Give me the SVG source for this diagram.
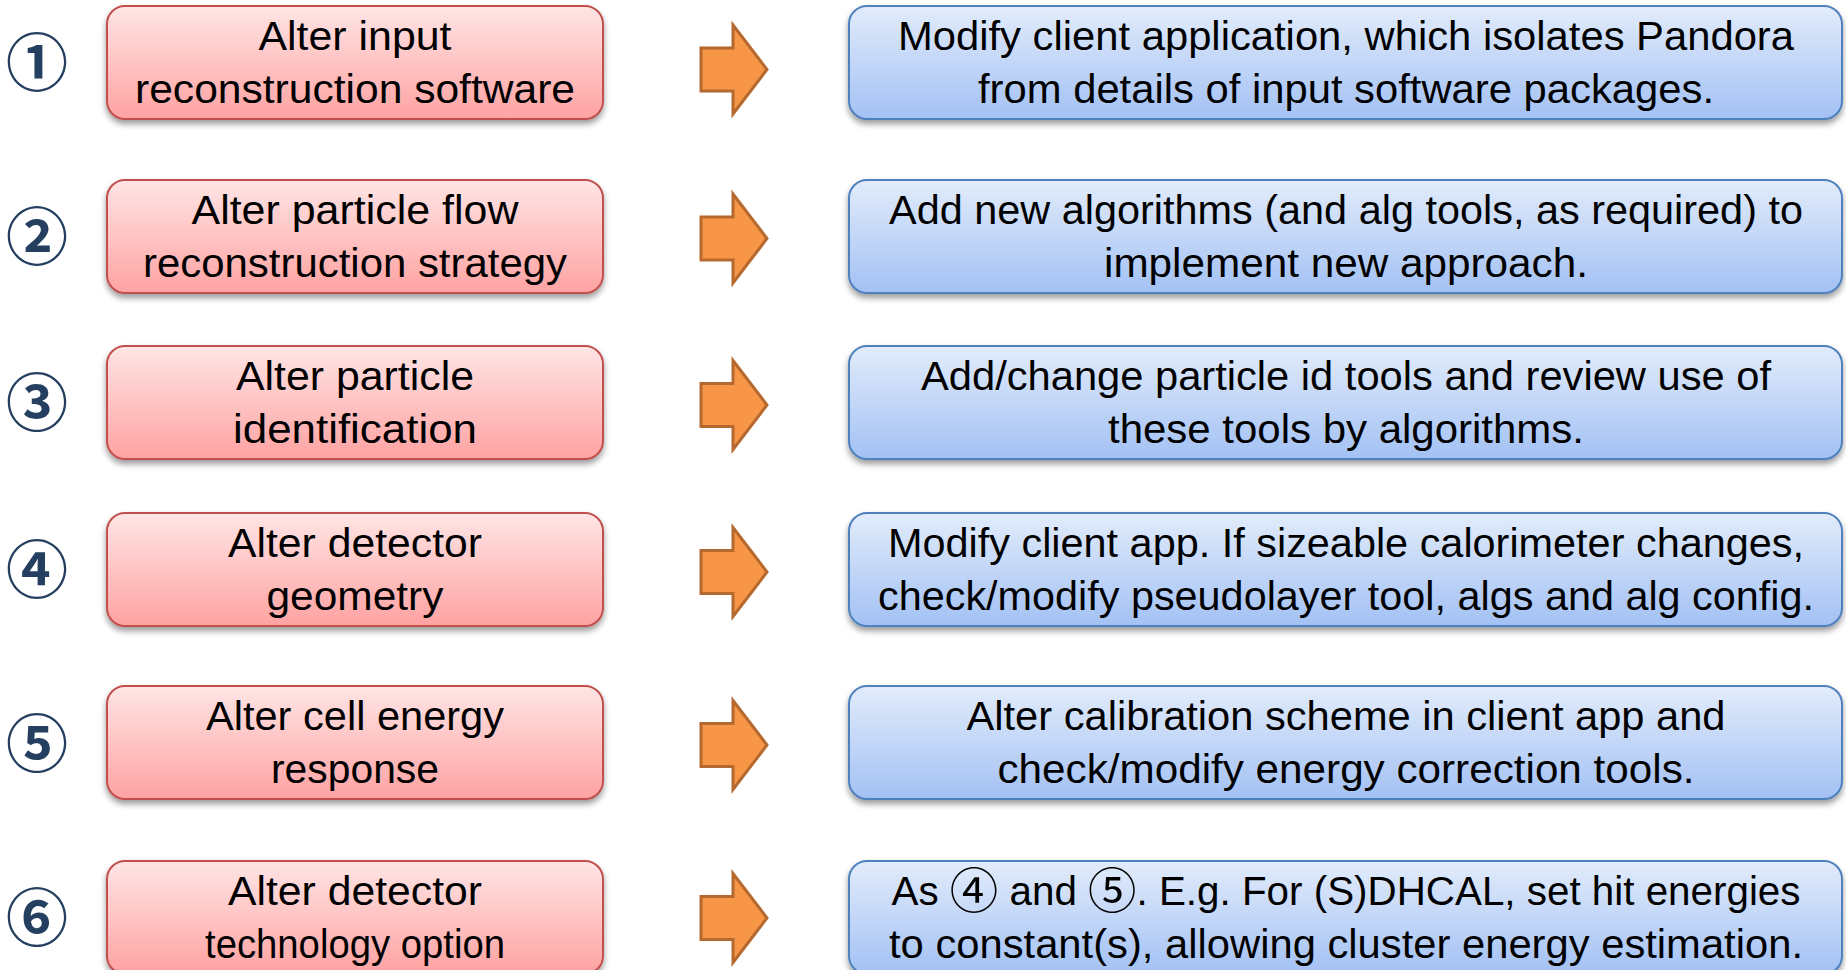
<svg xmlns="http://www.w3.org/2000/svg" width="1846" height="970" viewBox="0 0 1846 970">
<defs>
<linearGradient id="gRed" x1="0" y1="0" x2="0" y2="1">
<stop offset="0" stop-color="#FFE5E5"/>
<stop offset="1" stop-color="#FFA2A2"/>
</linearGradient>
<linearGradient id="gBlue" x1="0" y1="0" x2="0" y2="1">
<stop offset="0" stop-color="#E2ECFB"/>
<stop offset="1" stop-color="#A3C1F4"/>
</linearGradient>
<filter id="shadow" x="-5%" y="-10%" width="110%" height="130%">
<feGaussianBlur in="SourceAlpha" stdDeviation="3"/>
<feOffset dx="0" dy="4" result="b"/>
<feComponentTransfer><feFuncA type="linear" slope="0.4"/></feComponentTransfer>
<feMerge><feMergeNode/><feMergeNode in="SourceGraphic"/></feMerge>
</filter>
<path id="arrowShape" d="M0,-21.5 L32,-21.5 L32,-44.5 L66,0 L32,44.5 L32,21.5 L0,21.5 Z"/>
</defs>
<style>
.lbox{fill:url(#gRed);stroke:#C0504D;stroke-width:2;filter:url(#shadow)}
.rbox{fill:url(#gBlue);stroke:#4F81BD;stroke-width:2;filter:url(#shadow)}
.t{font-family:"Liberation Sans",Arial,sans-serif;font-size:40px;fill:#000;text-anchor:middle}
.num{font-family:"Noto Sans CJK JP","DejaVu Sans",sans-serif;font-weight:bold;font-size:62px;fill:#243F60;text-anchor:middle}
.c{font-family:"Noto Sans CJK JP",sans-serif;font-size:48px}
.arr{fill:#F79646;stroke:#B5692F;stroke-width:3;stroke-linejoin:miter}
</style>
<rect width="1846" height="970" fill="#FFFFFF"/>

<g id="connectors">
<use href="#arrowShape" class="arr" transform="translate(701,69.5)"/>
<use href="#arrowShape" class="arr" transform="translate(701,238.5)"/>
<use href="#arrowShape" class="arr" transform="translate(701,405)"/>
<use href="#arrowShape" class="arr" transform="translate(701,572)"/>
<use href="#arrowShape" class="arr" transform="translate(701,745)"/>
<use href="#arrowShape" class="arr" transform="translate(701,918)"/>
</g>

<g id="num1"><text class="num" x="37" y="86">①</text></g>
<g id="num2"><text class="num" x="37" y="260">②</text></g>
<g id="num3"><text class="num" x="37" y="426">③</text></g>
<g id="num4"><text class="num" x="37" y="593">④</text></g>
<g id="num5"><text class="num" x="37" y="767">⑤</text></g>
<g id="num6"><text class="num" x="37" y="941">⑥</text></g>

<g id="left1">
<rect class="lbox" x="107" y="6" width="496" height="113" rx="18"/>
<text class="t" x="355" y="50" textLength="193" lengthAdjust="spacingAndGlyphs">Alter input</text>
<text class="t" x="355" y="103" textLength="440" lengthAdjust="spacingAndGlyphs">reconstruction software</text>
</g>
<g id="left2">
<rect class="lbox" x="107" y="180" width="496" height="113" rx="18"/>
<text class="t" x="355" y="224" textLength="327" lengthAdjust="spacingAndGlyphs">Alter particle flow</text>
<text class="t" x="355" y="277" textLength="424" lengthAdjust="spacingAndGlyphs">reconstruction strategy</text>
</g>
<g id="left3">
<rect class="lbox" x="107" y="346" width="496" height="113" rx="18"/>
<text class="t" x="355" y="390" textLength="238" lengthAdjust="spacingAndGlyphs">Alter particle</text>
<text class="t" x="355" y="443" textLength="244" lengthAdjust="spacingAndGlyphs">identification</text>
</g>
<g id="left4">
<rect class="lbox" x="107" y="513" width="496" height="113" rx="18"/>
<text class="t" x="355" y="557" textLength="254" lengthAdjust="spacingAndGlyphs">Alter detector</text>
<text class="t" x="355" y="610" textLength="177" lengthAdjust="spacingAndGlyphs">geometry</text>
</g>
<g id="left5">
<rect class="lbox" x="107" y="686" width="496" height="113" rx="18"/>
<text class="t" x="355" y="730" textLength="298" lengthAdjust="spacingAndGlyphs">Alter cell energy</text>
<text class="t" x="355" y="783" textLength="168" lengthAdjust="spacingAndGlyphs">response</text>
</g>
<g id="left6">
<rect class="lbox" x="107" y="861" width="496" height="113" rx="18"/>
<text class="t" x="355" y="905" textLength="254" lengthAdjust="spacingAndGlyphs">Alter detector</text>
<text class="t" x="355" y="958" textLength="300" lengthAdjust="spacingAndGlyphs">technology option</text>
</g>

<g id="right1">
<rect class="rbox" x="849" y="6" width="993" height="113" rx="18"/>
<text class="t" x="1346" y="50" textLength="896" lengthAdjust="spacingAndGlyphs">Modify client application, which isolates Pandora</text>
<text class="t" x="1346" y="103" textLength="736" lengthAdjust="spacingAndGlyphs">from details of input software packages.</text>
</g>
<g id="right2">
<rect class="rbox" x="849" y="180" width="993" height="113" rx="18"/>
<text class="t" x="1346" y="224" textLength="914" lengthAdjust="spacingAndGlyphs">Add new algorithms (and alg tools, as required) to</text>
<text class="t" x="1346" y="277" textLength="484" lengthAdjust="spacingAndGlyphs">implement new approach.</text>
</g>
<g id="right3">
<rect class="rbox" x="849" y="346" width="993" height="113" rx="18"/>
<text class="t" x="1346" y="390" textLength="850" lengthAdjust="spacingAndGlyphs">Add/change particle id tools and review use of</text>
<text class="t" x="1346" y="443" textLength="476" lengthAdjust="spacingAndGlyphs">these tools by algorithms.</text>
</g>
<g id="right4">
<rect class="rbox" x="849" y="513" width="993" height="113" rx="18"/>
<text class="t" x="1346" y="557" textLength="916" lengthAdjust="spacingAndGlyphs">Modify client app. If sizeable calorimeter changes,</text>
<text class="t" x="1346" y="610" textLength="936" lengthAdjust="spacingAndGlyphs">check/modify pseudolayer tool, algs and alg config.</text>
</g>
<g id="right5">
<rect class="rbox" x="849" y="686" width="993" height="113" rx="18"/>
<text class="t" x="1346" y="730" textLength="759" lengthAdjust="spacingAndGlyphs">Alter calibration scheme in client app and</text>
<text class="t" x="1346" y="783" textLength="697" lengthAdjust="spacingAndGlyphs">check/modify energy correction tools.</text>
</g>
<g id="right6">
<rect class="rbox" x="849" y="861" width="993" height="113" rx="18"/>
<text class="t" x="1346" y="905" textLength="909" lengthAdjust="spacingAndGlyphs">As <tspan class="c" dy="3">④</tspan><tspan dy="-3"> and </tspan><tspan class="c" dy="3">⑤</tspan><tspan dy="-3">. E.g. For (S)DHCAL, set hit energies</tspan></text>
<text class="t" x="1346" y="958" textLength="914" lengthAdjust="spacingAndGlyphs">to constant(s), allowing cluster energy estimation.</text>
</g>
</svg>
